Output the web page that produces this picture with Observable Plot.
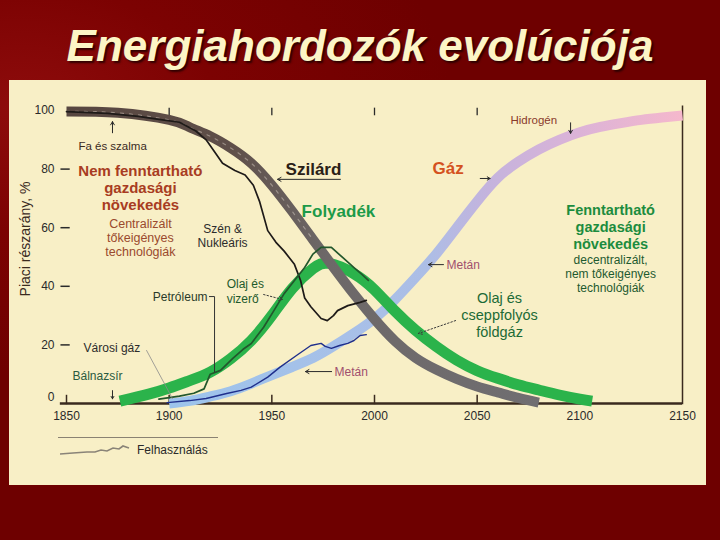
<!DOCTYPE html>
<html><head><meta charset="utf-8">
<script src="https://cdn.jsdelivr.net/npm/d3@7"></script>
<script src="https://cdn.jsdelivr.net/npm/@observablehq/plot@0.6"></script>
<style>
html,body{margin:0;padding:0;}
body{width:720px;height:540px;overflow:hidden;position:relative;
 background:radial-gradient(ellipse 60% 50% at 3% 20%, #8e0c0c 0%, #7c0202 45%, #6e0000 100%);
 font-family:"Liberation Sans",Arial,sans-serif;}
#title{position:absolute;left:0;width:720px;top:24px;text-align:center;
 font:italic bold 44px/44px "Liberation Sans",Arial,sans-serif;color:#fcf5c6;
 text-shadow:2px 2px 2px rgba(30,0,0,0.8);}
#panel{position:absolute;left:9px;top:80px;width:697px;height:405px;background:#f8efc6;}
#chart{position:absolute;left:0;top:0;}
#ylabel{position:absolute;left:16px;top:159px;white-space:nowrap;font-size:14px;color:#3a2a1e;
 transform:translate(-50%,-50%) rotate(-90deg);}
#legline{position:absolute;left:49px;top:357px;width:160px;height:0;border-top:1px solid #8a8272;}
#legsw{position:absolute;left:50px;top:362px;}
#legtxt{position:absolute;left:128px;top:363px;font-size:12px;color:#2a2a2a;}
</style></head>
<body>
<div id="title">Energiahordozók evolúciója</div>
<div id="panel">
  <div id="chart"></div>
  <div id="ylabel">Piaci részarány, %</div>
  <div id="legline"></div>
  <svg id="legsw" width="72" height="16"><polyline points="1,12 14,11 28,10 36,10 42,8 48,9 54,6 60,7 64,4 67,5 70,6" fill="none" stroke="#8a8478" stroke-width="1.6"/></svg>
  <div id="legtxt">Felhasználás</div>
</div>
<script>
// ---- scenario bands (share of market, %) ----
const solidYears  = [1850,1875,1900,1910,1920,1930,1940,1950,1960,1970,1980,1990,2000,2010,2020,2030,2040,2050,2060,2070,2080];
const solidShare  = [99.7,99.2,96.8,94.3,91.2,87.2,82,74.5,65.5,56,46.5,37.3,28.8,21.3,15.6,11.6,8.4,5.8,3.8,1.9,0.3];

const liquidYears = [1876,1890,1900,1910,1920,1930,1940,1950,1960,1970,1978,1990,2000,2010,2020,2030,2040,2050,2060,2070,2080,2090,2100,2106];
const liquidShare = [0.8,3.2,5.3,7.8,10.7,15.3,21.5,30,39.3,46,47.8,44.3,38.8,31.5,25,19.5,14.8,11.2,8.6,6.4,4.6,2.9,1.5,0.8];

const gasYears    = [1900,1910,1920,1930,1940,1950,1960,1970,1980,1990,2000,2010,2020,2030,2040,2050,2060,2070,2080,2090,2100,2110,2120,2130,2140,2150];
const gasShare    = [0,0.9,2.4,4.2,6.8,9.7,12.5,15.5,19.5,24,29,35.5,43,51,60,69,77,82.5,86.7,90,92.6,94.4,95.7,96.8,97.6,98.3];

// ---- actual usage (Felhasználás) ----
const solidUseYears  = [1850,1870,1885,1895,1905,1913,1918,1922,1926,1932,1937,1941,1944,1948,1952,1956,1961,1964,1966,1969,1974,1977,1980,1982,1987,1993,1996];
const solidUse       = [99.6,99,98,97,96,93,90,86,82,79.5,78,74.5,69,59,55,52,47.5,42,36,33,29,28.3,30,31.7,33.4,34.5,35.2];
const liquidUseYears = [1895,1905,1912,1917,1920,1925,1931,1936,1940,1946,1951,1956,1961,1966,1970,1974,1979,1985,1990,1994,1997];
const liquidUse      = [1.5,2.5,3.5,5,10,11.3,15.4,18.5,20.5,26,31.7,37.5,42,46.4,51,53.3,53.3,49.5,46.4,44,42];
const gasUseYears    = [1899,1910,1918,1928,1935,1940,1948,1954,1962,1969,1974,1976,1979,1983,1987,1990,1993,1996];
const gasUse         = [0.3,1,1.7,3.4,4.5,5.6,9,12.4,16.4,19.8,20.5,19.5,18.8,19.8,20.5,21.5,23.2,23.5];

// ---- ticks ----
const xTicks = [1850,1900,1950,2000,2050,2100,2150];
const topTicks = [1900,1950,2000,2050];
const yTicks = [20,40,60,80,100];
const yZeroTick = [0];
const yDashTicks = [20,40,60,80];

// ---- annotations (data coordinates) ----
const labels = [
  {t:"Fa és szalma", x:1855.8, y:88.1, a:"start", s:11.5, w:"normal", c:"#3a2a1e"},
  {t:"Nem fenntartható\ngazdasági\nnövekedés", x:1886, y:73.7, a:"middle", s:15, w:"bold", c:"#a83c22", lh:1.13},
  {t:"Centralizált\ntőkeigényes\ntechnológiák", x:1886, y:56.7, a:"middle", s:12.5, w:"normal", c:"#9a4a2e", lh:1.16},
  {t:"Szén &\nNukleáris", x:1926, y:57.3, a:"middle", s:12, w:"normal", c:"#2c2c2c", lh:1.2},
  {t:"Olaj és\nvizerő", x:1928, y:38.4, a:"start", s:12, w:"normal", c:"#1e5a2c", lh:1.2},
  {t:"Petróleum", x:1918.7, y:36.5, a:"end", s:12, w:"normal", c:"#2a3a2a"},
  {t:"Városi gáz", x:1858.3, y:19.1, a:"start", s:12, w:"normal", c:"#2c2c2c"},
  {t:"Bálnazsír", x:1852.9, y:9.6, a:"start", s:12, w:"normal", c:"#2a5a40"},
  {t:"Szilárd", x:1956.7, y:80.2, a:"start", s:17, w:"bold", c:"#2a2016"},
  {t:"Gáz", x:2028.3, y:80.5, a:"start", s:17, w:"bold", c:"#d4521e"},
  {t:"Folyadék", x:1964.5, y:65.9, a:"start", s:17, w:"bold", c:"#1c9a48"},
  {t:"Metán", x:2035.1, y:47.4, a:"start", s:12, w:"normal", c:"#a0506e"},
  {t:"Metán", x:1980.5, y:10.9, a:"start", s:12, w:"normal", c:"#a0506e"},
  {t:"Olaj és\ncseppfolyós\nföldgáz", x:2060.9, y:30.4, a:"middle", s:14.5, w:"normal", c:"#1c6a36", lh:1.17},
  {t:"Hidrogén", x:2066.2, y:96.9, a:"start", s:11.5, w:"normal", c:"#8a3a2c"},
  {t:"Fenntartható\ngazdasági\nnövekedés", x:2115, y:60.4, a:"middle", s:14.5, w:"bold", c:"#1c8c3e", lh:1.2},
  {t:"decentralizált,\nnem tőkeigényes\ntechnológiák", x:2115, y:44.4, a:"middle", s:12, w:"normal", c:"#1e5a30", lh:1.16}
];
const arrows = [
  {x1:1872.4, y1:92.4, x2:1872.4, y2:96.2},
  {x1:1872.4, y1:4.4, x2:1872.4, y2:1.6},
  {x1:1983.4, y1:76.5, x2:1952.8, y2:76.5},
  {x1:2051.5, y1:76.8, x2:2056.3, y2:76.8},
  {x1:2033.6, y1:47.4, x2:2026.3, y2:47.4},
  {x1:1979.1, y1:10.9, x2:1966.4, y2:10.9},
  {x1:2095.5, y1:95.8, x2:2095.5, y2:92.2}
];
const dottedArrows = [
  {x1:1946, y1:37.2, x2:1955.2, y2:35.5},
  {x1:2039.5, y1:28.3, x2:2021.4, y2:23.9}
];
const petroleumLeader = [{x:1919.6,y:36.5},{x:1922.1,y:36.5},{x:1922.1,y:10.8}];
const gasLeader = [{x:1889,y:18.1},{x:1901.6,y:1.7}];

const rows = (ys, vs) => ys.map((year, i) => ({year, share: vs[i]}));
const solid = rows(solidYears, solidShare);
const liquid = rows(liquidYears, liquidShare);
const gas = rows(gasYears, gasShare);
const solidU = rows(solidUseYears, solidUse);
const liquidU = rows(liquidUseYears, liquidUse);
const gasU = rows(gasUseYears, gasUse);

const axisColor = "#3a2a1e";
const marks = [
  Plot.ruleY([0], {x1: 1847, x2: 2150, stroke: axisColor, strokeWidth: 2.5}),
  Plot.ruleX(xTicks.slice(0, -1), {y1: -0.4, y2: 2.8, stroke: axisColor, strokeWidth: 1.5}),
  Plot.ruleX(topTicks, {y1: 98.2, y2: 100.8, stroke: "#2a2a2a", strokeWidth: 1.3}),
  Plot.ruleX([2150], {y1: -0.4, y2: 101.5, stroke: axisColor, strokeWidth: 1.5}),
  Plot.ruleY(yDashTicks, {x1: 1847.3, x2: 1851.8, stroke: "#2a2a2a", strokeWidth: 1.5}),
  Plot.axisY({ticks: yTicks, tickSize: 0, tickPadding: 12, fontSize: 12, label: null}),
  Plot.axisY({ticks: yZeroTick, tickSize: 0, tickPadding: 12, fontSize: 12, label: null, dy: -6}),
  Plot.axisX({ticks: xTicks, tickSize: 0, tickPadding: 8, fontSize: 12, label: null, tickFormat: d => `${d}`}),
  // bands
  Plot.line(gas, {x: "year", y: "share", curve: "natural", stroke: "url(#gasGrad)", strokeWidth: 10, strokeLinecap: "butt"}),
  Plot.line(liquid, {x: "year", y: "share", curve: "natural", stroke: "#2bb34b", strokeWidth: 11, strokeLinecap: "butt"}),
  Plot.line(solid, {x: "year", y: "share", curve: "natural", stroke: "url(#solidGrad)", strokeWidth: 10, strokeLinecap: "butt"}),
  Plot.line(solid.filter(d => d.year <= 1975), {x: "year", y: "share", curve: "natural", stroke: "#efe6da", strokeWidth: 1.2, strokeDasharray: "3,6", strokeOpacity: 0.4}),
  // actual usage
  Plot.line(solidU, {x: "year", y: "share", stroke: "#1e1a18", strokeWidth: 1.7}),
  Plot.line(liquidU, {x: "year", y: "share", stroke: "#22572c", strokeWidth: 1.7}),
  Plot.line(gasU, {x: "year", y: "share", stroke: "#1f2f8c", strokeWidth: 1.4}),
  // leaders
  Plot.line(petroleumLeader, {x: "x", y: "y", stroke: "#333", strokeWidth: 1}),
  Plot.line(gasLeader, {x: "x", y: "y", stroke: "#8a8a8a", strokeWidth: 0.8}),
  Plot.arrow(arrows, {x1: "x1", y1: "y1", x2: "x2", y2: "y2", stroke: "#2a2a2a", strokeWidth: 1, headLength: 6}),
  Plot.arrow(dottedArrows, {x1: "x1", y1: "y1", x2: "x2", y2: "y2", stroke: "#3a3a3a", strokeWidth: 1, headLength: 6, strokeDasharray: "1.5,2"})
];
labels.forEach(l => marks.push(Plot.text([l], {
  x: "x", y: "y", text: "t", textAnchor: l.a, fontSize: l.s, fontWeight: l.w, fill: l.c, lineHeight: l.lh || 1.2
})));

const svg = Plot.plot({
  width: 697, height: 405,
  marginLeft: 57, marginRight: 24, marginTop: 30, marginBottom: 82,
  x: {domain: [1850, 2150], axis: null},
  y: {domain: [0, 100], axis: null},
  style: {background: "transparent", color: "#2a2a2a", fontFamily: "'Liberation Sans', Arial, sans-serif"},
  marks
});

const sx = svg.scale("x");
const ns = "http://www.w3.org/2000/svg";
const defs = document.createElementNS(ns, "defs");
function grad(id, a, b, stops) {
  const g = document.createElementNS(ns, "linearGradient");
  g.setAttribute("id", id);
  g.setAttribute("gradientUnits", "userSpaceOnUse");
  g.setAttribute("x1", sx.apply(a)); g.setAttribute("x2", sx.apply(b));
  g.setAttribute("y1", 0); g.setAttribute("y2", 0);
  stops.forEach(([o, c]) => {
    const s = document.createElementNS(ns, "stop");
    s.setAttribute("offset", o); s.setAttribute("stop-color", c);
    g.appendChild(s);
  });
  defs.appendChild(g);
}
grad("gasGrad", 1900, 2150, [[0, "#9cc4ec"], [0.5, "#acbee6"], [0.62, "#c4b3dd"], [0.8, "#dcb3d7"], [1, "#f5b8cc"]]);
grad("solidGrad", 1850, 2080, [[0, "#574640"], [0.35, "#5f4f49"], [0.55, "#6d6868"], [1, "#706e71"]]);
svg.insertBefore(defs, svg.firstChild);
document.getElementById("chart").appendChild(svg);
</script>
</body></html>
